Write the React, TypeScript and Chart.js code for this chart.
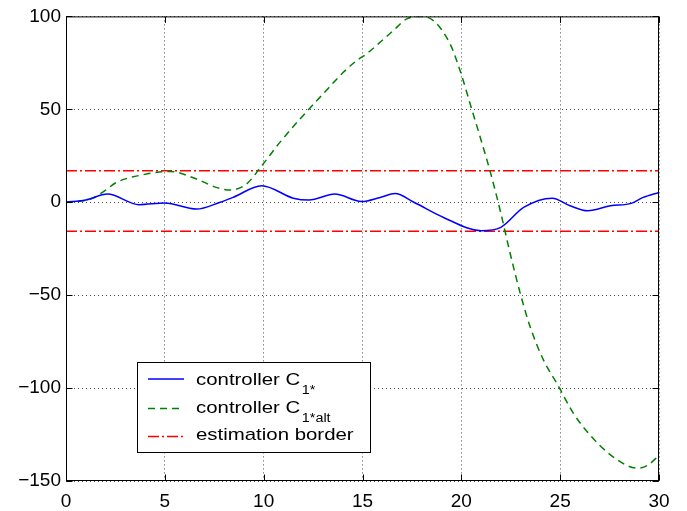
import React, { useEffect, useRef } from "react";
import { Chart, registerables } from "chart.js";

Chart.register(...registerables);

// ---- data ----
const blueT = [0, 1.0, 2.1, 3.7, 5.0, 6.6, 7.8, 8.45, 9.9, 11.5, 12.3, 13.6, 14.95, 15.9, 16.65, 17.6, 19.1, 21.0, 22.0, 23.15, 24.6, 25.5, 26.4, 27.55, 28.6, 29.2, 30];
const blueV = [0, 1.2, 4.4, -1.3, -0.4, -3.7, 0, 2.6, 8.9, 2.2, 1.2, 4.4, 0.4, 2.6, 4.7, 0, -8.2, -15.3, -13.5, -2.8, 2.2, -1.9, -4.6, -1.9, -0.6, 2.6, 5.3];

const greenT = [0, 0.7, 1.36, 2.0, 2.54, 3.9, 5.25, 6.6, 7.6, 8.3, 9.13, 9.9, 10.82, 11.83, 13.0, 14.03, 14.7, 15.2, 15.89, 16.56, 17.24, 17.9, 18.6, 19.44, 19.94, 20.5, 20.96, 21.45, 21.97, 22.48, 22.99, 23.49, 24.17, 24.85, 25.69, 26.53, 27.38, 28.39, 28.9, 29.4, 30];
const greenV = [0, 0.5, 2.2, 6.5, 10.6, 14.8, 16.6, 12.5, 8, 6.6, 9.8, 19.6, 32.2, 44.7, 58.2, 69.9, 76.2, 79.8, 86.1, 92.4, 98.7, 100, 97.6, 85, 70.7, 51, 34.8, 16.9, -4.6, -28, -49.4, -67.3, -85.2, -97.8, -113.9, -125.5, -134.5, -141.7, -143.1, -141.7, -136.3];

const borderT = [0, 30];
const borderUpper = [17, 17];
const borderLower = [-15.6, -15.6];

const xTicks = [0, 5, 10, 15, 20, 25, 30];
const yTicks = [-150, -100, -50, 0, 50, 100];

const legendLabels = ["controller C", "controller C", "estimation border"];
const legendSubs = ["1*", "1*alt", ""];

const FONT = "'Liberation Sans', Arial, Helvetica, sans-serif";

const toPts = (t: number[], v: number[]) => t.map((x, i) => ({ x, y: v[i] }));
const fmt = (v: number) => (v < 0 ? "\u2212" + Math.abs(v) : String(v));

const framePlugin = {
  id: "frame",
  afterDraw(chart: any) {
    const { ctx, chartArea: a, scales } = chart;
    ctx.save();
    ctx.strokeStyle = "#000";
    ctx.lineWidth = 1;
    const L = a.left + 0.5, R = a.right - 0.5, T = a.top + 0.5, B = a.bottom - 0.5;
    ctx.strokeRect(L, T, R - L, B - T);
    const tl = 6;
    ctx.beginPath();
    xTicks.forEach((v) => {
      const px = Math.round(scales.x.getPixelForValue(v)) + 0.5;
      ctx.moveTo(px, B); ctx.lineTo(px, B - tl);
      ctx.moveTo(px, T); ctx.lineTo(px, T + tl);
    });
    yTicks.forEach((v) => {
      const py = Math.round(scales.y.getPixelForValue(v)) + 0.5;
      ctx.moveTo(L, py); ctx.lineTo(L + tl, py);
      ctx.moveTo(R, py); ctx.lineTo(R - tl, py);
    });
    ctx.stroke();

    // legend
    const bx = 137.5, by = 362.5, bw = 233, bh = 90;
    ctx.fillStyle = "#fff";
    ctx.fillRect(bx, by, bw, bh);
    ctx.strokeStyle = "#000";
    ctx.lineWidth = 1;
    ctx.strokeRect(bx, by, bw, bh);

    const ds = chart.data.datasets;
    const sampleY = [379, 408.5, 436.5];
    const baseY = [384.5, 413, 439.5];
    const sx = 1.2;
    [0, 1, 2].forEach((i) => {
      const d = ds[i];
      ctx.save();
      ctx.strokeStyle = d.borderColor;
      ctx.lineWidth = d.borderWidth;
      ctx.setLineDash(d.borderDash || []);
      ctx.beginPath();
      ctx.moveTo(148, sampleY[i]);
      ctx.lineTo(184, sampleY[i]);
      ctx.stroke();
      ctx.restore();

      ctx.fillStyle = "#000";
      ctx.textBaseline = "alphabetic";
      ctx.textAlign = "left";
      ctx.font = `17px ${FONT}`;
      const w = ctx.measureText(legendLabels[i]).width * sx;
      ctx.save();
      ctx.translate(196, baseY[i]);
      ctx.scale(sx, 1);
      ctx.fillText(legendLabels[i], 0, 0);
      ctx.restore();
      if (legendSubs[i]) {
        ctx.font = `12px ${FONT}`;
        ctx.save();
        ctx.translate(196 + w + 1.5, baseY[i] + 9);
        ctx.scale(sx, 1);
        ctx.fillText(legendSubs[i], 0, 0);
        ctx.restore();
      }
    });
    ctx.restore();
  },
};

export default function App() {
  const ref = useRef<HTMLCanvasElement | null>(null);
  useEffect(() => {
    if (!ref.current) return;
    const chart = new Chart(ref.current, {
      type: "line",
      data: {
        datasets: [
          {
            label: "controller C1*",
            data: toPts(blueT, blueV),
            borderColor: "#0000ff",
            borderWidth: 1.5,
            pointRadius: 0,
            cubicInterpolationMode: "monotone",
            fill: false,
          },
          {
            label: "controller C1*alt",
            data: toPts(greenT, greenV),
            borderColor: "#008000",
            borderWidth: 1.5,
            borderDash: [7, 5],
            pointRadius: 0,
            cubicInterpolationMode: "monotone",
            fill: false,
          },
          {
            label: "estimation border",
            data: toPts(borderT, borderUpper),
            borderColor: "#ff0000",
            borderWidth: 1.5,
            borderDash: [11, 3, 2, 3],
            pointRadius: 0,
            fill: false,
          },
          {
            label: "estimation border (lower)",
            data: toPts(borderT, borderLower),
            borderColor: "#ff0000",
            borderWidth: 1.5,
            borderDash: [11, 3, 2, 3],
            pointRadius: 0,
            fill: false,
          },
        ],
      },
      options: {
        responsive: false,
        animation: false,
        devicePixelRatio: 1,
        layout: { padding: { top: 15, right: 28, left: 0, bottom: 0 } },
        plugins: { legend: { display: false }, tooltip: { enabled: false } },
        scales: {
          x: {
            type: "linear",
            min: 0,
            max: 30,
            afterFit: (s: any) => { s.height = 30; },
            afterBuildTicks: (s: any) => { s.ticks = xTicks.map((v) => ({ value: v })); },
            ticks: {
              padding: 9,
              color: "#000",
              font: { family: FONT, size: 19 },
              maxRotation: 0,
              callback: (v: any) => fmt(Number(v)),
            },
            grid: {
              color: "rgba(0,0,0,0.7)",
              lineWidth: 1,
              drawTicks: false,
            },
            border: { display: false, dash: [1, 3] },
          },
          y: {
            type: "linear",
            min: -150,
            max: 100,
            afterFit: (s: any) => { s.width = 66; },
            afterBuildTicks: (s: any) => { s.ticks = yTicks.map((v) => ({ value: v })); },
            ticks: {
              padding: 5,
              color: "#000",
              font: { family: FONT, size: 19 },
              callback: (v: any) => fmt(Number(v)),
            },
            grid: {
              color: "rgba(0,0,0,0.7)",
              lineWidth: 1,
              drawTicks: false,
            },
            border: { display: false, dash: [1, 3] },
          },
        },
      },
      plugins: [framePlugin],
    });
    return () => chart.destroy();
  }, []);
  return (
    <div style={{ position: "absolute", left: 0, top: 0, width: 687, height: 511, background: "#fff" }}>
      <canvas ref={ref} width={687} height={511} style={{ display: "block" }} />
    </div>
  );
}
